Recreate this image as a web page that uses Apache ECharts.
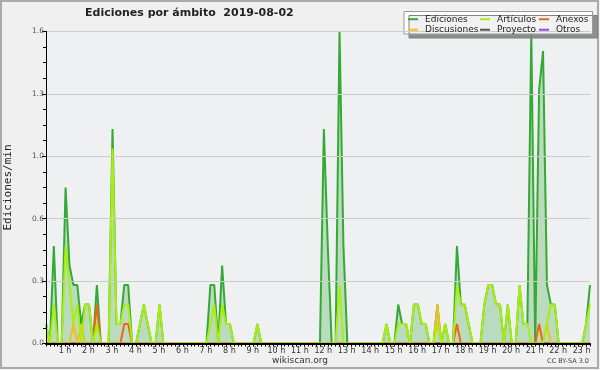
<!DOCTYPE html>
<html><head><meta charset="utf-8">
<script src="https://cdn.jsdelivr.net/npm/echarts@6/dist/echarts.min.js"></script>
<style>html,body{margin:0;padding:0;background:#f0f0f0}#c{width:600px;height:370px}</style>
</head><body><div id="c"></div>
<script>
// 10-minute slots, index i = 00:00 + 10 min * i (values in edits/min)
const ediciones = [
  0.1,0,0.5,0,0,0.8,     0.4,0.3,0.3,0.1,0.2,0.2,   0,0.3,0,0,0,1.1,
  0.1,0.1,0.3,0.3,0,0,   0.1,0.2,0.1,0,0,0.2,       0,0,0,0,0,0,
  0,0,0,0,0,0,           0.3,0.3,0,0.4,0.1,0.1,     0,0,0,0,0,0,
  0.1,0,0,0,0,0,         0,0,0,0,0,0,               0,0,0,0,0,1.1,
  0.5,0,0,1.6,0.5,0,     0,0,0,0,0,0,               0,0,0,0.1,0,0,
  0.2,0.1,0.1,0,0.2,0.2, 0.1,0.1,0,0,0.2,0,         0.1,0,0,0.5,0.2,0.2,
  0.1,0,0,0,0.2,0.3,     0.3,0.2,0.2,0,0.2,0,       0,0.3,0.1,0.1,1.6,0,
  1.3,1.5,0.3,0.2,0.2,0, 0,0,0,0,0,0,               0.1,0.3
];
const articulos = [
  0.1,0,0.2,0,0,0.5,     0.3,0.1,0.2,0,0.2,0.2,     0,0.1,0,0,0,1.0,
  0.1,0.1,0.2,0.2,0,0,   0.1,0.2,0.1,0,0,0.2,       0,0,0,0,0,0,
  0,0,0,0,0,0,           0.1,0.2,0,0.2,0.1,0.1,     0,0,0,0,0,0,
  0.1,0,0,0,0,0,         0,0,0,0,0,0,               0,0,0,0,0,0,
  0,0,0,0.3,0,0,         0,0,0,0,0,0,               0,0,0,0.1,0,0,
  0.1,0.1,0.1,0,0.2,0.2, 0.1,0.1,0,0,0.1,0,         0.1,0,0,0.3,0.2,0.2,
  0.1,0,0,0,0.2,0.3,     0.3,0.2,0.2,0,0.2,0,       0,0.3,0.1,0.1,0,0,
  0,0,0.1,0.2,0.2,0,     0,0,0,0,0,0,               0.1,0.2
];
const discusiones = [
  0,0,0,0,0,0,   0,0.1,0,0.1,0,0,   0,0,0,0,0,0,
  0,0,0,0,0,0,   0,0,0,0,0,0,       0,0,0,0,0,0,
  0,0,0,0,0,0,   0,0,0,0,0,0,       0,0,0,0,0,0,
  0,0,0,0,0,0,   0,0,0,0,0,0,       0,0,0,0,0,0,
  0,0,0,0,0,0,   0,0,0,0,0,0,       0,0,0,0,0,0,
  0,0,0,0,0,0,   0,0,0,0,0.2,0,     0,0,0,0,0,0,
  0,0,0,0,0,0,   0,0,0,0,0,0,       0,0,0,0,0,0,
  0,0,0.1,0,0,0, 0,0,0,0,0,0,       0,0
];
const anexos = [
  0,0,0,0,0,0,   0,0,0,0,0,0,       0,0.2,0,0,0,0,
  0,0,0.1,0.1,0,0, 0,0,0,0,0,0,     0,0,0,0,0,0,
  0,0,0,0,0,0,   0,0,0,0,0,0,       0,0,0,0,0,0,
  0,0,0,0,0,0,   0,0,0,0,0,0,       0,0,0,0,0,0,
  0,0,0,0,0,0,   0,0,0,0,0,0,       0,0,0,0,0,0,
  0,0,0,0,0,0,   0,0,0,0,0,0,       0,0,0,0.1,0,0,
  0,0,0,0,0,0,   0,0,0,0,0,0,       0,0,0,0,0,0,
  0.1,0,0,0,0,0, 0,0,0,0,0,0,       0,0
];
const proyecto = new Array(140).fill(0);
const otros = new Array(140).fill(0);

const colors = {Ediciones:'#33aa33', Discusiones:'#f0c020', 'Artículos':'#aaee11', Proyecto:'#555555', Anexos:'#ee6611', Otros:'#9944ee'};
const toXY = arr => arr.map((v,i)=>[i,v]);

const chart = echarts.init(document.getElementById('c'), null, {renderer:'canvas'});
const FONT = 'DejaVu Sans';
function mkSeries(name, arr, extra){
  return Object.assign({
    name, type:'line', data: toXY(arr), showSymbol:false, symbol:'none',
    lineStyle:{color:colors[name], width:2}, itemStyle:{color:colors[name]},
    animation:false, silent:true
  }, extra||{});
}
const legendBase = {orient:'vertical', top:14, itemWidth:10, itemHeight:2, icon:'rect', itemGap:0, padding:0, z:10,
  selectedMode:false, textStyle:{fontFamily:FONT, fontSize:9, color:'#222', lineHeight:10.5, padding:[0,0,0,2]}};
chart.setOption({
  backgroundColor:'#f0f0f0',
  animation:false,
  title:{text:'Ediciones por ámbito  2019-08-02', left:80, top:3,
    textStyle:{fontFamily:FONT, fontSize:11, fontWeight:'bold', color:'#222'}},
  grid:{left:46, right:10, top:31.5, bottom:26.5, show:true, backgroundColor:'#eef0f2', borderWidth:0, outerBoundsMode:'none', containLabel:false},
  legend:[
    Object.assign({data:['Ediciones','Discusiones'], left:408}, legendBase),
    Object.assign({data:['Artículos','Proyecto'], left:480}, legendBase),
    Object.assign({data:['Anexos','Otros'], left:539}, legendBase)
  ],
  xAxis:{type:'value', min:0, max:139, interval:1,
    axisLine:{lineStyle:{color:'#000', width:2}}, z:10,
    axisTick:{length:3, lineStyle:{color:'#000'}},
    splitLine:{show:false},
    axisLabel:{fontFamily:FONT, fontSize:8, color:'#333', margin:3, padding:[0,9,0,0],
      formatter: v => (v>0 && v%6===0) ? (v/6)+' h' : ''}
  },
  yAxis:{type:'value', min:0, max:1.6, interval:0.32,
    name:'Ediciones/min', nameLocation:'middle', nameGap:32, nameRotate:90,
    nameTextStyle:{fontFamily:'DejaVu Sans Mono', fontSize:11, color:'#222'},
    axisLine:{show:true, lineStyle:{color:'#000'}}, z:10,
    axisTick:{show:true, length:4, lineStyle:{color:'#000'}},
    minorTick:{show:true, splitNumber:4, length:3, lineStyle:{color:'#000'}},
    splitLine:{lineStyle:{color:'#cccccc', width:1}},
    axisLabel:{fontFamily:FONT, fontSize:7.5, color:'#555', margin:2,
      formatter: v => v.toFixed(1)}
  },
  graphic:[
    {type:'rect', shape:{x:1, y:1, width:597, height:367}, style:{fill:'none', stroke:'#aaaaaa', lineWidth:2}, z:0, silent:true},
    {type:'rect', shape:{x:404, y:11.5, width:188.5, height:22.5}, style:{fill:'rgba(255,255,255,0.88)', stroke:'#999', lineWidth:1,
      shadowColor:'#808080', shadowOffsetX:5, shadowOffsetY:4, shadowBlur:0}, z:8, silent:true},
    {type:'text', left:'center', top:356, style:{text:'wikiscan.org', font:'9px "DejaVu Sans"', fill:'#333'}, z:10},
    {type:'text', right:11, top:358, style:{text:'CC BY-SA 3.0', font:'6.5px "DejaVu Sans"', fill:'#444'}, z:10}
  ],
  series:[
    mkSeries('Ediciones', ediciones, {areaStyle:{color:'rgba(50,160,50,0.38)'}, z:2}),
    mkSeries('Proyecto', proyecto, {z:3}),
    mkSeries('Otros', otros, {z:3}),
    mkSeries('Anexos', anexos, {z:4}),
    mkSeries('Discusiones', discusiones, {z:4}),
    mkSeries('Artículos', articulos, {z:5})
  ]
});
</script></body></html>
